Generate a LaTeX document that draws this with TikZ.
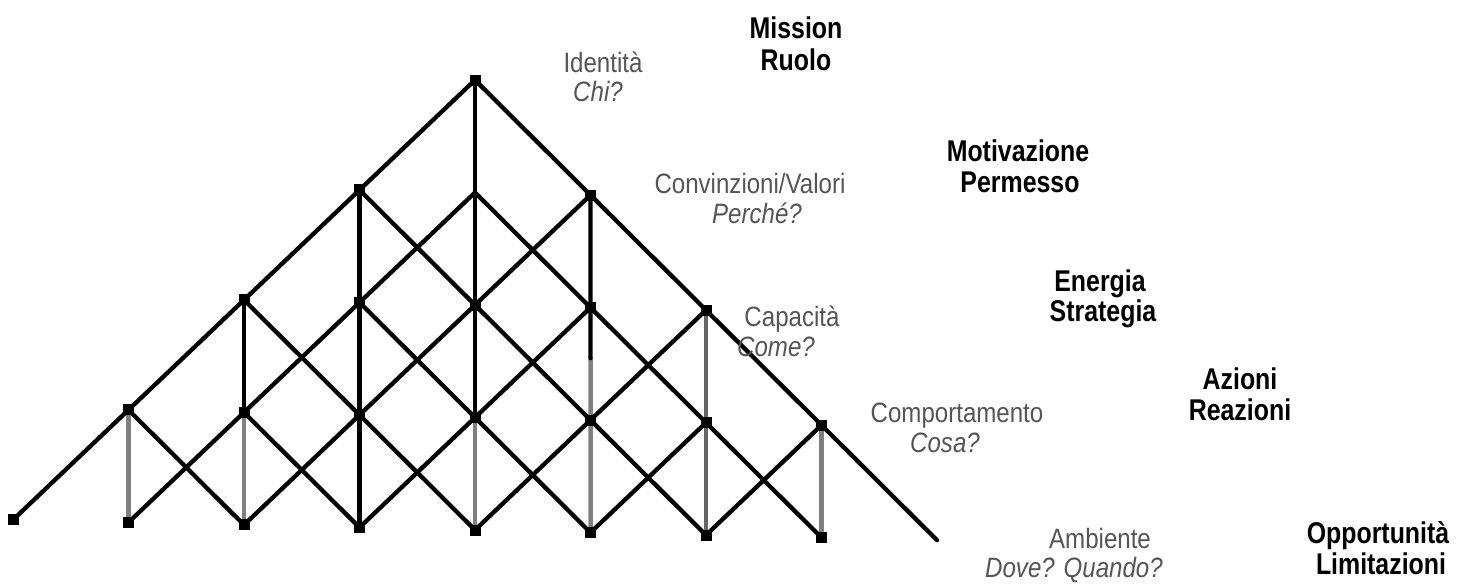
\documentclass[tikz,border=0pt]{standalone}
\usepackage{fontspec}
\setmainfont{Liberation Sans}
\newfontfamily\labfont[FakeStretch=0.86]{Liberation Sans}
\newfontfamily\blabfont[FakeStretch=0.83]{Liberation Sans Bold}
\usetikzlibrary{calc}
\definecolor{labgray}{RGB}{85,85,85}
\definecolor{linegray}{RGB}{128,128,128}
\definecolor{darkline}{RGB}{100,100,100}
\begin{document}
\begin{tikzpicture}[x=1pt,y=-1pt,line cap=round,line join=round,
  blk/.style={draw=black,line width=4.3pt},
  gry/.style={draw=linegray,line width=4.5pt},
  dgry/.style={draw=darkline,line width=4.5pt},
  dotnode/.style={rectangle,fill=black,inner sep=0pt,minimum size=11pt},
  lab/.style={text=labgray,font=\labfont\fontsize{28}{30}\selectfont,inner sep=0pt,anchor=base},
  qlab/.style={text=labgray,font=\labfont\fontsize{28}{30}\selectfont\itshape,inner sep=0pt,anchor=base},
  blab/.style={text=black,font=\blabfont\fontsize{30}{32}\selectfont,inner sep=0pt,anchor=base}]
\useasboundingbox (0,0) rectangle (1458,584);
% lattice coordinates n<i><r>, i = c+4
\foreach \r in {0,...,4}{
  \pgfmathtruncatemacro{\lo}{4-\r}
  \pgfmathtruncatemacro{\hi}{4+\r}
  \foreach \i in {\lo,...,\hi}{
    \coordinate (n\i\r) at ({475+(\i-4)*115.5},{80+\r*112.5+0.022*(\i-4)*115.5});
  }
}
\coordinate (m1) at ($(n52)!0.45!(n53)$);
% vertical lines
\draw[gry] (n43) -- (n44);
\draw[blk] (n40) -- (n43);
\draw[gry] (m1) -- (n54);
\draw[blk] (n51) -- (m1);
\draw[dgry] (n62) -- (n64);
\draw[gry] (n73) -- (n74);
\draw[blk] (n31) -- (n34);
\draw[gry] (n23) -- (n24);
\draw[blk] (n22) -- (n23);
\draw[gry] (n13) -- (n14);
% down-right diagonals
\draw[blk] (n40) -- (n84);
\draw[blk] (n41) -- (n74);
\draw[blk] (n31) -- (n64);
\draw[blk] (n32) -- (n54);
\draw[blk] (n22) -- (n44);
\draw[blk] (n23) -- (n34);
\draw[blk] (n13) -- (n24);
% down-left diagonals
\draw[blk] (n40) -- (n04);
\draw[blk] (n41) -- (n14);
\draw[blk] (n51) -- (n24);
\draw[blk] (n52) -- (n34);
\draw[blk] (n62) -- (n44);
\draw[blk] (n63) -- (n54);
\draw[blk] (n73) -- (n64);
% dots
\foreach \p in {40,31,51,22,32,42,52,62,13,23,33,43,53,63,73,04,14,24,34,44,54,64,74}{
  \node[dotnode] (d\p) at (n\p) {};
}
% level labels (anchored at baseline)
\node[lab]  (identita) at (603,72)  {Identità};
\node[qlab] (chi)      at (598,101) {Chi?};
\node[lab]  (convinz)  at (750,193) {Convinzioni/Valori};
\node[qlab] (perche)   at (757,223) {Perché?};
\node[lab]  (capacita) at (792,326) {Capacità};
\node[qlab] (come)     at (776,356) {Come?};
\node[lab]  (comport)  at (957,422) {Comportamento};
\node[qlab] (cosa)     at (945,452) {Cosa?};
\node[lab]  (ambiente) at (1100,548) {Ambiente};
\node[qlab] (dove)     at (1074,577) {Dove? Quando?};
% bold labels
\node[blab] (mission)  at (796,38)  {Mission};
\node[blab] (ruolo)    at (796,70)  {Ruolo};
\node[blab] (motiv)    at (1018,161) {Motivazione};
\node[blab] (permesso) at (1020,192) {Permesso};
\node[blab] (energia)  at (1100,291) {Energia};
\node[blab] (strateg)  at (1103,321) {Strategia};
\node[blab] (azioni)   at (1240,389) {Azioni};
\node[blab] (reazioni) at (1240,420) {Reazioni};
\node[blab] (opport)   at (1378,543) {Opportunità};
\node[blab] (limitaz)  at (1381,574) {Limitazioni};
\end{tikzpicture}
\end{document}
